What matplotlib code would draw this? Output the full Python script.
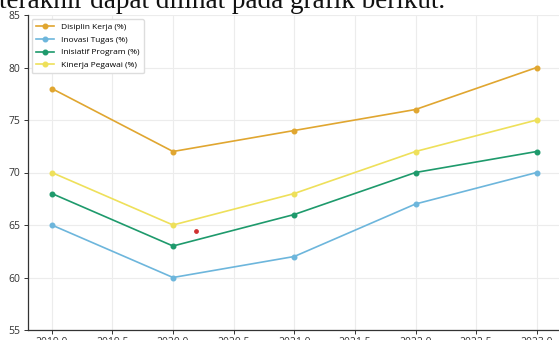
import matplotlib
matplotlib.use("Agg")
import matplotlib.pyplot as plt
from matplotlib.patches import Rectangle

years = [2019, 2020, 2021, 2022, 2023]
disiplin = [78, 72, 74, 76, 80]
inovasi = [65, 60, 62, 67, 70]
inisiatif = [68, 63, 66, 70, 72]
kinerja = [70, 65, 68, 72, 75]
labels = ["Disiplin Kerja (%)", "Inovasi Tugas (%)", "Inisiatif Program (%)", "Kinerja Pegawai (%)"]
colors = ["#E0A630", "#6DB6DC", "#1E9A6C", "#EEE05A"]
stray_x = [2020.19]
stray_y = [64.4]
heading = "terakhir dapat dilihat pada grafik berikut."

W, H = 559, 340
fig = plt.figure(figsize=(W / 100, H / 100), dpi=100)
ax = fig.add_axes([27.5 / W, 10 / H, 533.5 / W, 315 / H])

for vals, lab, c in zip([disiplin, inovasi, inisiatif, kinerja], labels, colors):
    ax.plot(years, vals, marker="o", markersize=3.3, linewidth=1.2, color=c, label=lab)
ax.scatter(stray_x, stray_y, s=6, color="#D03030", zorder=5)

ax.set_xlim(2018.8, 2023.2)
ax.set_ylim(55, 85)
ax.set_xticks([2019.0, 2019.5, 2020.0, 2020.5, 2021.0, 2021.5, 2022.0, 2022.5, 2023.0])
ax.set_xticklabels(["2019.0", "2019.5", "2020.0", "2020.5", "2021.0", "2021.5", "2022.0", "2022.5", "2023.0"])
ax.set_yticks([55, 60, 65, 70, 75, 80, 85])
ax.grid(True, color="#ECECEC", linewidth=0.8)
ax.set_axisbelow(True)
for s in ["top", "right"]:
    ax.spines[s].set_visible(False)
for s in ["left", "bottom"]:
    ax.spines[s].set_color("#333333")
    ax.spines[s].set_linewidth(0.9)
ax.tick_params(axis="both", labelsize=7.5, colors="#333333", length=3, width=0.7, pad=2)
for t in ax.get_xticklabels() + ax.get_yticklabels():
    t.set_family("Open Sans")

leg = ax.legend(loc="upper left", frameon=True, framealpha=1, edgecolor="#DDDDDD",
                handlelength=2.2, borderpad=0.5, labelspacing=0.58, bbox_to_anchor=(0.0, 1.0),
                prop={"family": "Open Sans", "size": 6.0})

# white band of the page above the chart image
fig.patches.append(Rectangle((0, 1 - 11 / H), 1, 11 / H, transform=fig.transFigure,
                             facecolor="white", edgecolor="none", zorder=10))
fig.text(-1 / W, 1 - 8 / H, heading, family="Liberation Serif", fontsize=19.5,
         va="baseline", ha="left", color="#111111", zorder=11)

fig.savefig("out.png", dpi=100)
